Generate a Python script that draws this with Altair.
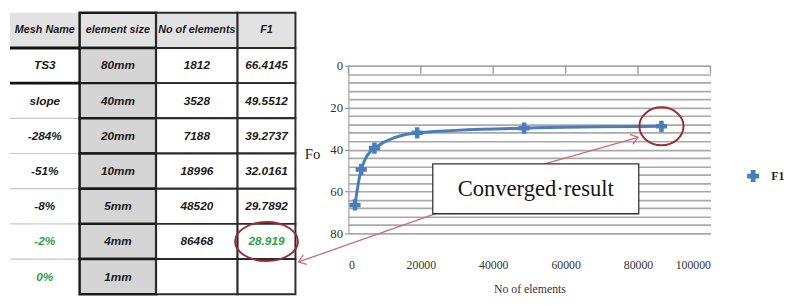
import altair as alt
import pandas as pd

# ---------------- data ----------------
HEADERS = ["Mesh Name", "element size", "No of elements", "F1"]
MESH_NAME = ["TS3", "slope", "-284%", "-51%", "-8%", "-2%", "0%"]
ELEMENT_SIZE = ["80mm", "40mm", "20mm", "10mm", "5mm", "4mm", "1mm"]
NO_OF_ELEMENTS = [1812, 3528, 7188, 18996, 48520, 86468, None]
F1_VALUES = [66.4145, 49.5512, 39.2737, 32.0161, 29.7892, 28.919, None]
GREEN_MESH = ["-2%", "0%"]
CONVERGED_ROW = 5  # index into the body rows (4mm / 86468 / 28.919)

X_TICKS = [0, 20000, 40000, 60000, 80000, 100000]
Y_GRID = [0, 4, 8, 12, 16, 20, 24, 28, 32, 36, 40, 44, 48, 52, 56, 60, 64, 68, 72, 76, 80]

# annotation (in data units of the plot)
BOX = {"x": 23300, "x2": 80200, "y": 46.8, "y2": 70.6}
BOX_TEXT = "Converged·result"
ARROWS = {"x": [54200, 25500], "y": [46.8, 69.7], "x2": [80000, -13800], "y2": [34.2, 93.6]}

# ---------------- styles ----------------
SANS = "Liberation Sans, Arial, sans-serif"
SERIF = "Liberation Serif, DejaVu Serif, serif"
BLUE = "#4a7ebb"
GREEN = "#2e9e45"
DARKRED = "#9b2d30"
PINK = "#cf6a70"
HEADER_FILL = "#e2e2e2"
ROW_H = 287
COL_W = [71, 78, 83, 59]


def fmt(v):
    if v is None:
        return ""
    return str(v)


def table_column(i, body_values, fill_body, stroke, stroke_w, green_rows, col1=False, extra=None):
    texts = [HEADERS[i]] + [fmt(v) for v in body_values]
    df = pd.DataFrame({
        "row": list(range(len(texts))),
        "text": texts,
        "col": HEADERS[i],
        "green": [False] + [r in green_rows for r in range(len(body_values))],
    })
    x = alt.X("col:N", axis=None, scale=alt.Scale(paddingInner=0, paddingOuter=0))
    y = alt.Y("row:O", axis=None, scale=alt.Scale(paddingInner=0, paddingOuter=0))
    base = alt.Chart(df).encode(x=x, y=y)
    if col1:
        rect = base.mark_rect().encode(
            fill=alt.condition("datum.row == 0", alt.value(HEADER_FILL), alt.value("white"))
        )
        rules = alt.Chart(df).transform_filter("datum.row >= 1").mark_rule().encode(
            y=alt.Y("row:O", bandPosition=0, axis=None),
            color=alt.condition("datum.row <= 2", alt.value("#111111"), alt.value("#c8c8c8")),
            strokeWidth=alt.condition("datum.row <= 2", alt.value(3), alt.value(1.2)),
        )
        layers = [rect, rules]
    else:
        rect = base.mark_rect(stroke=stroke, strokeWidth=stroke_w).encode(
            fill=alt.condition("datum.row == 0", alt.value(HEADER_FILL), alt.value(fill_body))
        )
        layers = [rect]
    head = base.transform_filter("datum.row == 0").mark_text(
        font=SANS, fontSize=11, fontStyle="italic", fontWeight="bold", color="#1a1a1a"
    ).encode(text="text:N")
    body = base.transform_filter("datum.row > 0").mark_text(
        font=SANS, fontSize=12, fontStyle="italic", fontWeight="bold"
    ).encode(
        text="text:N",
        color=alt.condition("datum.green", alt.value(GREEN), alt.value("#1a1a1a")),
    )
    layers += [head, body]
    if extra is not None:
        layers.append(extra)
    return alt.layer(*layers).properties(width=COL_W[i], height=ROW_H)


# ellipse round the converged value in the table
ellipse_tbl = alt.Chart(pd.DataFrame({"row": [CONVERGED_ROW + 1], "col": [HEADERS[3]]})).mark_point(
    shape="M -1 0 A 1 0.62 0 1 0 1 0 A 1 0.62 0 1 0 -1 0 Z",
    size=4096, filled=False, stroke=DARKRED, strokeWidth=2, opacity=1,
).encode(
    x=alt.X("col:N", axis=None),
    y=alt.Y("row:O", axis=None),
)

c1 = table_column(0, MESH_NAME, "white", None, 0,
                  [k for k, m in enumerate(MESH_NAME) if m in GREEN_MESH], col1=True)
c2 = table_column(1, ELEMENT_SIZE, "#d5d5d5", "#1a1a1a", 2.5, [])
c3 = table_column(2, NO_OF_ELEMENTS, "white", "#2a2a2a", 2, [])
c4 = table_column(3, F1_VALUES, "white", "#2a2a2a", 2, [CONVERGED_ROW], extra=ellipse_tbl)

# empty gap between table and plot
spacer = alt.Chart(pd.DataFrame({"a": [""]})).mark_text().encode(text="a:N").properties(
    width=54, height=ROW_H
)

# ---------------- plot ----------------
n = CONVERGED_ROW + 1
df_line = pd.DataFrame({
    "elements": NO_OF_ELEMENTS[:n],
    "F1": F1_VALUES[:n],
    "series": "F1",
})

xs = alt.Scale(domain=[0, 100000], nice=False, zero=False)
ys = alt.Scale(domain=[0, 80], range=[54, 225], nice=False, zero=False)

x_axis = alt.Axis(
    values=X_TICKS, format="d", grid=False, domain=False, ticks=False,
    labelPadding=27, labelFontSize=12, labelFont=SERIF, labelColor="#333333",
    title="No of elements", titleFont=SERIF, titleFontSize=12, titleFontWeight="normal",
    titleColor="#333333", titlePadding=13, labelOverlap=False,
)
y_axis = alt.Axis(
    values=Y_GRID, labelExpr="datum.value % 20 == 0 ? datum.label : ''",
    grid=True, gridColor="#a9a9a9", gridWidth=1.7,
    domain=True, domainColor="#a0a0a0", domainWidth=1.2,
    tickSize=4, tickColor="#888888",
    tickOpacity={"condition": {"test": "datum.value % 20 == 0", "value": 1}, "value": 0},
    labelPadding=2, labelFontSize=13, labelFont=SERIF, labelColor="#333333", labelOverlap=False,
    title="Fo", titleAngle=0, titleX=-37, titleY=144, titleAlign="center", titleBaseline="middle",
    titleFont=SERIF, titleFontSize=15, titleFontWeight="normal", titleColor="#222222",
)


def X(field):
    return alt.X(field, scale=xs, axis=x_axis)


def Y(field):
    return alt.Y(field, scale=ys, axis=y_axis)


line = alt.Chart(df_line).mark_line(
    color=BLUE, strokeWidth=3, interpolate="monotone"
).encode(x=X("elements:Q"), y=Y("F1:Q"))

top_ticks = alt.Chart(pd.DataFrame({"elements": X_TICKS, "y0": 0.0, "y1": 3.8})).mark_rule(
    color="#a0a0a0", strokeWidth=1.5
).encode(x=X("elements:Q"), y=Y("y0:Q"), y2="y1:Q")

points = alt.Chart(df_line).mark_point(shape="cross", filled=True, size=130, opacity=1).encode(
    x=X("elements:Q"), y=Y("F1:Q"),
    color=alt.Color("series:N", scale=alt.Scale(range=[BLUE]), legend=alt.Legend(
        title=None, orient="none", legendX=751, legendY=160, symbolType="cross",
        symbolSize=150, labelFont=SERIF, labelFontSize=12, labelFontWeight="bold",
        labelColor="#222222", symbolStrokeWidth=0, labelOffset=12,
    )),
)

box_df = pd.DataFrame([BOX])
box = alt.Chart(box_df).mark_rect(fill="white", stroke="#333333", strokeWidth=1.3).encode(
    x=X("x:Q"), x2="x2:Q", y=Y("y:Q"), y2="y2:Q"
)
box_text = alt.Chart(box_df).transform_calculate(
    cx="(datum.x + datum.x2) / 2", cy="(datum.y + datum.y2) / 2", label=f"'{BOX_TEXT}'"
).mark_text(font=SERIF, fontSize=23, color="#151515").encode(
    x=X("cx:Q"), y=Y("cy:Q"), text="label:N"
)

arrows_df = pd.DataFrame(ARROWS)
arrow_lines = alt.Chart(arrows_df).mark_rule(color=PINK, strokeWidth=1.3).encode(
    x=X("x:Q"), y=Y("y:Q"), x2="x2:Q", y2="y2:Q"
)
head_path = "M -1 -0.75 L 0 0 L -1 0.75"
head1 = alt.Chart(arrows_df.iloc[[0]]).mark_point(
    shape=head_path, size=196, filled=False, stroke=PINK, strokeWidth=1.3, opacity=1, angle=344
).encode(x=X("x2:Q"), y=Y("y2:Q"))
head2 = alt.Chart(arrows_df.iloc[[1]]).mark_point(
    shape=head_path, size=196, filled=False, stroke=PINK, strokeWidth=1.3, opacity=1, angle=160
).encode(x=X("x2:Q"), y=Y("y2:Q"))

ellipse_plot = alt.Chart(df_line.iloc[[CONVERGED_ROW]]).mark_point(
    shape="M -1 0 A 1 0.86 0 1 0 1 0 A 1 0.86 0 1 0 -1 0 Z",
    size=2025, filled=False, stroke=DARKRED, strokeWidth=2, opacity=1,
).encode(x=X("elements:Q"), y=Y("F1:Q"))

plot = alt.layer(
    line, top_ticks, points, arrow_lines, head1, head2, box, box_text, ellipse_plot
).properties(width=369, height=225)

chart = alt.hconcat(c1, c2, c3, c4, spacer, plot, spacing=0, bounds="flush").properties(
    padding=0
).configure_view(stroke=None)

chart.save("out.html", embed_options={"renderer": "svg", "actions": False})
